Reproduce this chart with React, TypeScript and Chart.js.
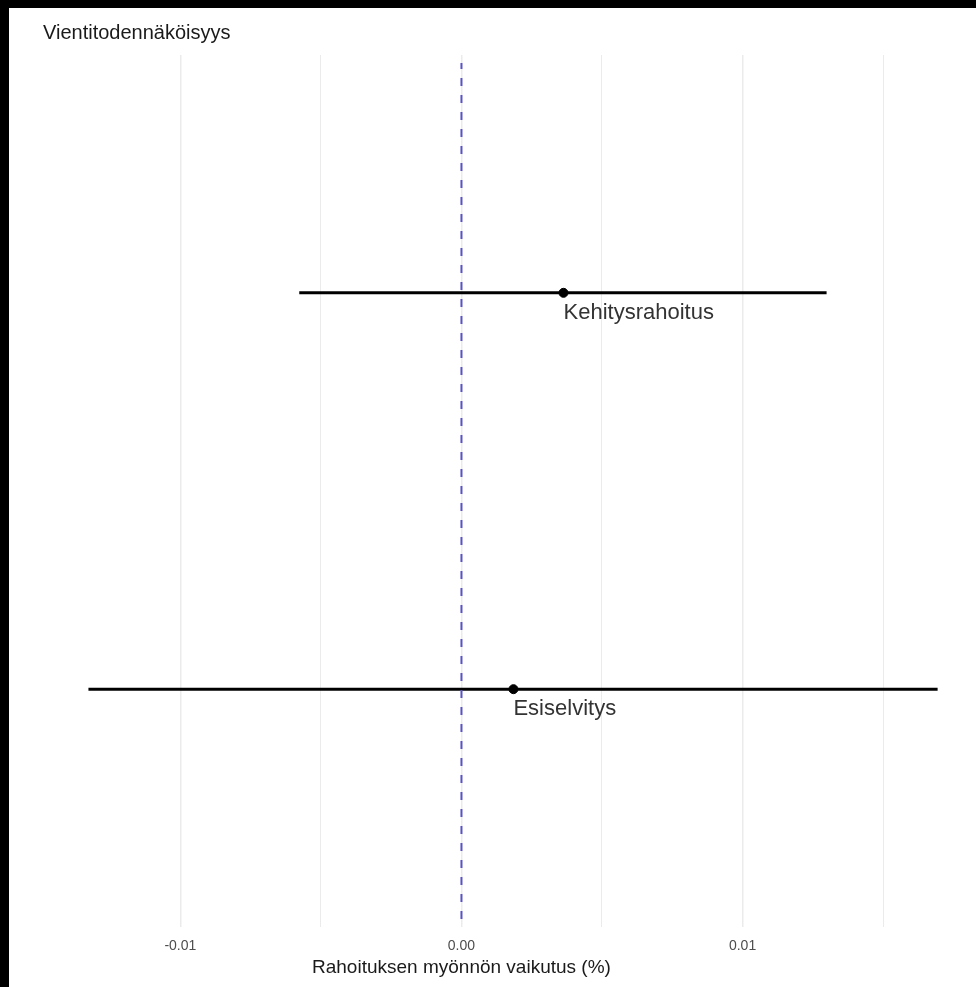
import React, { useEffect, useRef } from "react";
import { Chart, registerables } from "chart.js";

Chart.register(...registerables);

const categories = ["Esiselvitys", "Kehitysrahoitus"];
const estimates = [0.00185, 0.00363];
const lowerBounds = [-0.01327, -0.00577];
const upperBounds = [0.01694, 0.01299];
const tickLabels = ["-0.01", "0.00", "0.01"];
const subtitleText = "Vientitodennäköisyys";
const xAxisTitle = "Rahoituksen myönnön vaikutus (%)";

const FONT = "'Liberation Sans', Arial, Helvetica, sans-serif";

const labelPlugin = {
  id: "pointLabels",
  afterDatasetsDraw(chart: any) {
    const { ctx, scales, chartArea } = chart;
    const xs = scales.x;
    const ys = scales.y;
    ctx.save();
    ctx.font = `22px ${FONT}`;
    ctx.fillStyle = "#333333";
    ctx.textAlign = "left";
    ctx.textBaseline = "middle";
    categories.forEach((c, i) => {
      const px = xs.getPixelForValue(estimates[i]);
      const py = ys.getPixelForValue(i + 1);
      ctx.fillText(c, px, py + 20);
    });
    ctx.font = `20px ${FONT}`;
    ctx.fillStyle = "#1a1a1a";
    ctx.fillText(subtitleText, chartArea.left - 3, 25);
    ctx.font = `19px ${FONT}`;
    ctx.textAlign = "center";
    ctx.fillText(xAxisTitle, xs.getPixelForValue(0), 960);
    ctx.restore();
  },
};

export default function App() {
  const ref = useRef<HTMLCanvasElement>(null);

  useEffect(() => {
    if (!ref.current) return;
    const errorbarSets = categories.map((c, i) => ({
      type: "line" as const,
      label: c + " CI",
      data: [
        { x: lowerBounds[i], y: i + 1 },
        { x: upperBounds[i], y: i + 1 },
      ],
      borderColor: "#000000",
      borderWidth: 3,
      pointRadius: 0,
      borderCapStyle: "butt" as const,
    }));
    const chart = new Chart(ref.current, {
      type: "scatter",
      data: {
        datasets: [
          {
            type: "line",
            label: "zero",
            data: [
              { x: 0, y: 0.42 },
              { x: 0, y: categories.length + 0.58 },
            ],
            borderColor: "#5753c9",
            borderWidth: 2,
            borderDash: [8, 9],
            pointRadius: 0,
          } as any,
          {
            label: "estimate",
            data: categories.map((c, i) => ({ x: estimates[i], y: i + 1 })),
            backgroundColor: "#000000",
            borderColor: "#000000",
            pointRadius: 4.5,
            showLine: false,
          },
          ...errorbarSets,
        ],
      },
      options: {
        animation: false,
        responsive: false,
        devicePixelRatio: 1,
        layout: { padding: { left: 37, top: 47, right: 0, bottom: 0 } },
        plugins: {
          legend: { display: false },
          tooltip: { enabled: false },
          title: { display: false },
        },
        scales: {
          x: {
            type: "linear",
            min: -0.01478,
            max: 0.01811,
            border: { display: false },
            grid: {
              drawTicks: false,
              color: "#ebebeb",
              lineWidth: (ctx: any) => {
                const v = ctx.tick ? ctx.tick.value : 0;
                const major = Math.abs(v / 0.01 - Math.round(v / 0.01)) < 1e-6;
                return major ? 1.5 : 1;
              },
            },
            ticks: {
              stepSize: 0.005,
              includeBounds: false,
              autoSkip: false,
              maxRotation: 0,
              padding: 11,
              color: "#4d4d4d",
              font: { family: FONT, size: 14 },
              callback: (v: any) => {
                const n = Number(v);
                const k = Math.round(n / 0.01);
                if (Math.abs(n / 0.01 - k) < 1e-6) {
                  const idx = k + 1;
                  return tickLabels[idx] !== undefined ? tickLabels[idx] : "";
                }
                return "";
              },
            },
            title: { display: false },
            afterFit: (scale: any) => {
              scale.height = 60;
            },
          } as any,
          y: {
            type: "linear",
            display: false,
            min: 0.4,
            max: categories.length + 0.6,
          },
        },
      },
      plugins: [labelPlugin],
    });
    return () => chart.destroy();
  }, []);

  return (
    <div style={{ position: "fixed", inset: 0, background: "#000000" }}>
      <div
        style={{
          position: "absolute",
          left: 9,
          top: 8,
          width: 967,
          height: 979,
          background: "#ffffff",
          overflow: "hidden",
        }}
      >
        <canvas ref={ref} width={967} height={979} style={{ display: "block" }} />
      </div>
    </div>
  );
}
